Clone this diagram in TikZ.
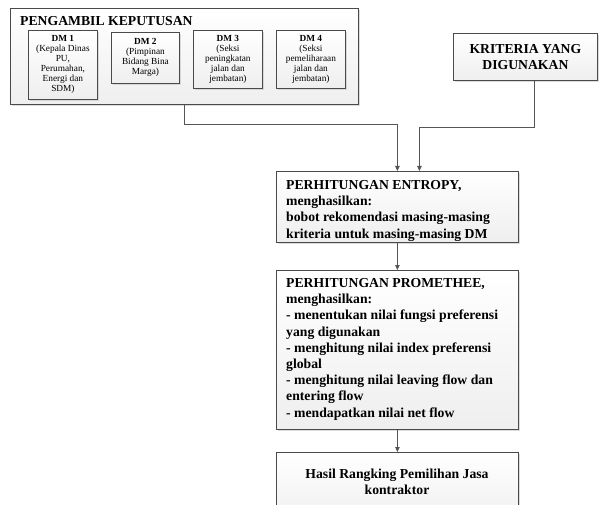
\documentclass[tikz,border=0pt]{standalone}
\usepackage{fontspec}
\setmainfont{Liberation Serif}
\usetikzlibrary{shadows,arrows.meta,calc}
\definecolor{bord}{HTML}{4A4A4A}
\definecolor{arr}{HTML}{555555}
\tikzset{
 box/.style={draw=bord, line width=0.8pt, top color=white, bottom color=gray!13,
   drop shadow={shadow xshift=1.5pt, shadow yshift=-1.5pt, fill=gray!45, opacity=0.6}, inner sep=0pt},
 big/.style={font=\fontsize{13.7}{16.2}\selectfont\bfseries, inner sep=0pt},
 small/.style={font=\fontsize{9.3}{10}\selectfont, align=center},
 conn/.style={draw=arr, line width=0.8pt, -{Triangle[length=5pt,width=4.5pt]}},
}
\begin{document}
\begin{tikzpicture}[x=1pt,y=-1pt]
\clip (0,0) rectangle (607,505);
\fill[white] (0,0) rectangle (607,505);
% decision makers
\node[box, anchor=north west, minimum width=348pt, minimum height=96pt] (pk) at (10,8) {};
\node[big, anchor=base west] (pkt) at (20,26) {PENGAMBIL KEPUTUSAN};
\node[box, small, anchor=north west, minimum width=69pt, minimum height=69pt] (dm1) at (28,30)
  {\textbf{DM 1}\\(Kepala Dinas\\PU,\\Perumahan,\\Energi dan\\SDM)};
\node[box, small, anchor=north west, minimum width=68pt, minimum height=51pt] (dm2) at (111,32)
  {\textbf{DM 2}\\(Pimpinan\\Bidang Bina\\Marga)};
\node[box, small, anchor=north west, minimum width=69pt, minimum height=58pt] (dm3) at (193,30)
  {\textbf{DM 3}\\(Seksi\\peningkatan\\jalan dan\\jembatan)};
\node[box, small, anchor=north west, minimum width=69pt, minimum height=58pt] (dm4) at (276,30)
  {\textbf{DM 4}\\(Seksi\\pemeliharaan\\jalan dan\\jembatan)};
% criteria
\node[box, big, align=center, anchor=north west, minimum width=144pt, minimum height=47pt] (krit) at (453,33)
  {KRITERIA YANG\\DIGUNAKAN};
% entropy
\node[box, anchor=north west, minimum width=242pt, minimum height=71pt] (ent) at (276,171) {};
\node[big, align=left, anchor=north west] (entt) at (286,180.2)
  {PERHITUNGAN ENTROPY,\\menghasilkan:\\bobot rekomendasi masing-masing\\kriteria untuk masing-masing DM};
% promethee
\node[box, anchor=north west, minimum width=242pt, minimum height=159pt] (prom) at (276,270) {};
\node[big, align=left, anchor=north west] (promt) at (286,278.2)
  {PERHITUNGAN PROMETHEE,\\menghasilkan:\\- menentukan nilai fungsi preferensi\\yang digunakan\\- menghitung nilai index preferensi\\global\\- menghitung nilai leaving flow dan\\entering flow\\- mendapatkan nilai net flow};
% result
\node[box, anchor=north west, minimum width=242pt, minimum height=75pt] (has) at (276,452) {};
\node[big, align=center, anchor=north] (hast) at (397,468.7)
  {Hasil Rangking Pemilihan Jasa\\kontraktor};
% connectors
\draw[conn] (pk.south) -- ++(0,20) -| (ent.north);
\draw[conn] ([xshift=9pt]krit.south) -- ++(0,47) -| ([xshift=22pt]ent.north);
\draw[conn] (ent.south) -- (prom.north);
\draw[conn] (prom.south) -- (has.north);
\end{tikzpicture}
\end{document}
